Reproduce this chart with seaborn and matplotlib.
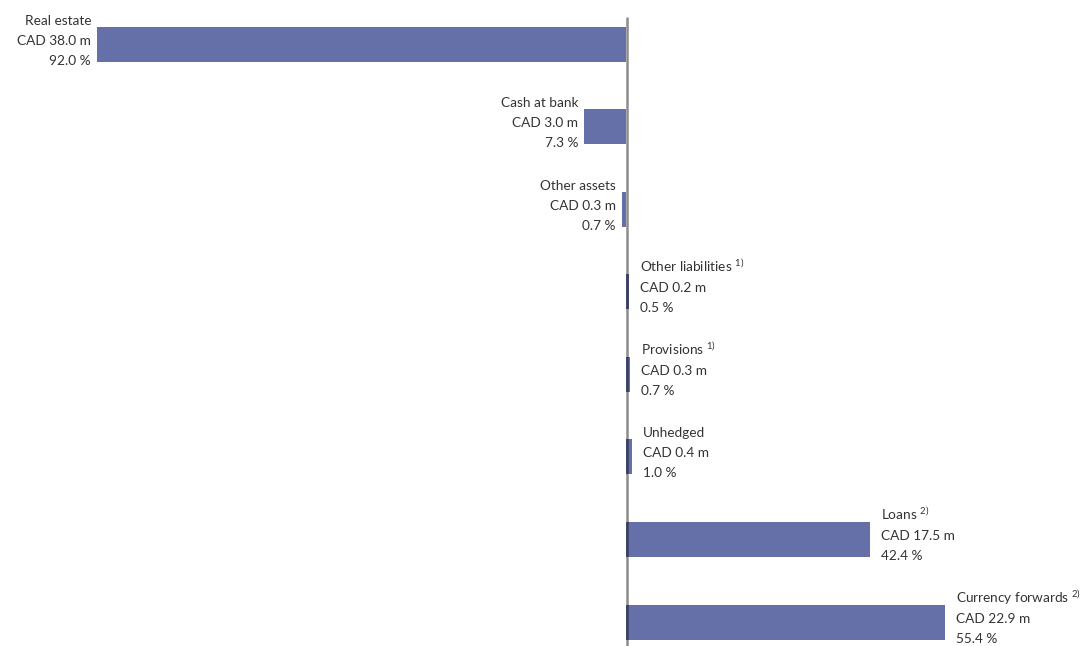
import matplotlib
matplotlib.use("Agg")
import matplotlib.pyplot as plt
import seaborn as sns
import pandas as pd

# Balance sheet structure (CAD million); assets drawn to the left, liabilities to the right
categories = ["Real estate", "Cash at bank", "Other assets", "Other liabilities",
              "Provisions", "Unhedged", "Loans", "Currency forwards"]
footnotes = ["", "", "", "1)", "1)", "", "2)", "2)"]
amounts = [38.0, 3.0, 0.3, 0.2, 0.3, 0.4, 17.5, 22.9]
shares = [92.0, 7.3, 0.7, 0.5, 0.7, 1.0, 42.4, 55.4]
side = [-1, -1, -1, 1, 1, 1, 1, 1]

sns.set_theme(style="white")
plt.rcParams["font.family"] = ["Lato", "DejaVu Sans"]
plt.rcParams["mathtext.fontset"] = "custom"
plt.rcParams["mathtext.rm"] = "Lato"
plt.rcParams["mathtext.default"] = "regular"

df = pd.DataFrame({
    "category": categories,
    "value": [s * a for s, a in zip(side, amounts)],
})

BAR = "#6670A8"
TEXT = "#333333"

fig = plt.figure(figsize=(10.81, 6.46), dpi=100)
ax = fig.add_axes([0, 0, 1, 1])

sns.barplot(data=df, x="value", y="category", orient="h", color=BAR,
            saturation=1, width=0.424, linewidth=0, ax=ax)

ax.set_xlim(-44.97, 32.69)
ax.set_ylim(7.29, -0.533)

# zero axis line, drawn over the bars
ax.vlines(0.07, -0.327, 7.29, color="black", alpha=0.45, lw=1.8, zorder=3)

px = 0.72  # points per pixel at 100 dpi
for i, (name, fn, amt, sh, sd) in enumerate(zip(categories, footnotes, amounts, shares, side)):
    title = name + (r" $^{" + fn + "}$" if fn else "")
    lines = [title, f"CAD {amt:.1f} m", f"{sh:.1f} %"]
    x = sd * amt
    dx = (11 if sd > 0 else -6) * px
    ha = "left" if sd > 0 else "right"
    for dy, line in zip([19.5, -0.5, -20.5], lines):
        ax.annotate(line, xy=(x, i), xytext=(dx, dy * px), textcoords="offset points",
                    ha=ha, va="baseline", fontsize=9.8, color=TEXT)

ax.axis("off")
fig.savefig("out.png", dpi=100)
